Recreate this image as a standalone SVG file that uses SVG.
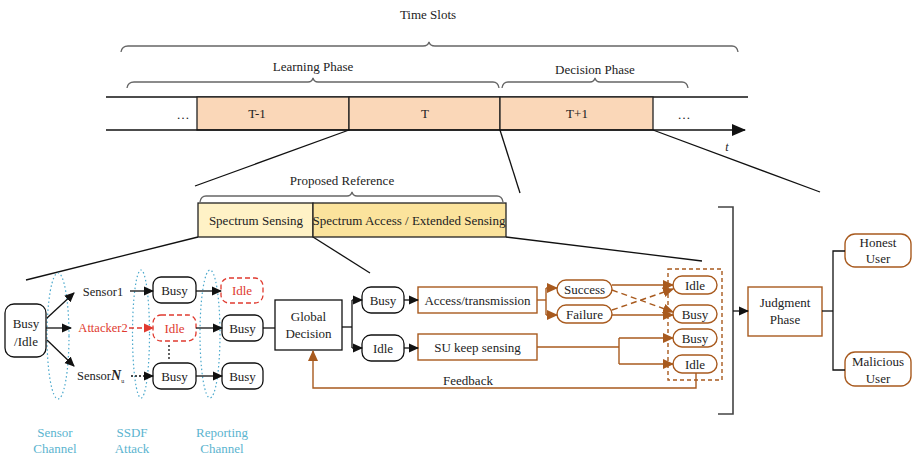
<svg xmlns="http://www.w3.org/2000/svg" width="912" height="457" viewBox="0 0 912 457" font-family="'Liberation Serif', 'Times New Roman', Times, serif">
<defs>
<marker id="ab" markerUnits="userSpaceOnUse" markerWidth="10" markerHeight="10" refX="9" refY="5" orient="auto"><path d="M0,0.5 L10,5 L0,9.5 Z" fill="#111"/></marker>
<marker id="ar" markerUnits="userSpaceOnUse" markerWidth="10" markerHeight="10" refX="9" refY="5" orient="auto"><path d="M0,0.5 L10,5 L0,9.5 Z" fill="#E03A2F"/></marker>
<marker id="aw" markerUnits="userSpaceOnUse" markerWidth="11" markerHeight="11" refX="10" refY="5.5" orient="auto"><path d="M0,0.5 L11,5.5 L0,10.5 Z" fill="#A85A1E"/></marker>
<marker id="abig" markerUnits="userSpaceOnUse" markerWidth="14" markerHeight="12" refX="13" refY="6" orient="auto"><path d="M0,0 L14,6 L0,12 Z" fill="#111"/></marker>
</defs>
<style>
text{font-family:'Liberation Serif','Times New Roman',Times,serif;font-size:13px;fill:#222;text-anchor:middle}
.sm{font-size:12.5px}
.blue{fill:#5BB4CF;font-size:13px}
.red{fill:#E03A2F}
.bl{fill:none;stroke:#111;stroke-width:1.3}
.br{fill:none;stroke:#A85A1E;stroke-width:1.4}
.box{fill:#fff;stroke:#111;stroke-width:1.3}
.bbox{fill:#fff;stroke:#A85A1E;stroke-width:1.4}
.brace{fill:none;stroke:#666;stroke-width:1.3}
.ell{fill:none;stroke:#4AA8CC;stroke-width:1.2;stroke-dasharray:1.5 2.5}
.cell{fill:#FAD7B8;stroke:#222;stroke-width:1.3}
</style>
<rect width="912" height="457" fill="#fff"/>

<g id="timeline">
<text x="428" y="19">Time Slots</text>
<path class="brace" d="M121,52 Q122,46 128,46 L423,46 Q428,46 429,42 Q430,46 435,46 L732,46 Q737,46 738,52"/>
<text x="313" y="71">Learning Phase</text>
<path class="brace" d="M127,88 Q128,82 134,82 L308,82 Q312,82 313,78 Q314,82 318,82 L493,82 Q498,82 499,88"/>
<text x="595" y="74">Decision Phase</text>
<path class="brace" d="M502,88 Q503,82 508,82 L590,82 Q594,82 595,78 Q596,82 600,82 L682,82 Q687,82 688,88"/>
<line class="bl" x1="106" y1="97" x2="748" y2="97"/>
<rect class="cell" x="197" y="97" width="152" height="33"/>
<rect class="cell" x="349" y="97" width="151" height="33"/>
<rect class="cell" x="500" y="97" width="153" height="33"/>
<line class="bl" x1="106" y1="130" x2="745" y2="130" marker-end="url(#abig)"/>
<text x="183" y="119">…</text>
<text x="257" y="118">T-1</text>
<text x="425" y="118">T</text>
<text x="577" y="118">T+1</text>
<text x="684" y="119">…</text>
<text x="727" y="151" style="font-style:italic;font-size:12px">t</text>
</g>

<g id="zoom-lines">
<line class="bl" x1="349" y1="130" x2="195" y2="186"/>
<line class="bl" x1="500" y1="130" x2="520" y2="193"/>
<line class="bl" x1="653" y1="130" x2="820" y2="192"/>
<line class="bl" x1="198" y1="237" x2="26" y2="280"/>
<line class="bl" x1="313" y1="237" x2="370" y2="273"/>
<line class="bl" x1="506" y1="237" x2="702" y2="261"/>
</g>

<g id="proposed">
<text x="342" y="185">Proposed Reference</text>
<path class="brace" d="M200,202 Q201,196 206,196 L347,196 Q351,196 352,192 Q353,196 357,196 L497,196 Q502,196 503,202"/>
<rect x="198" y="203" width="115" height="34" fill="#FFF2C6" stroke="#222" stroke-width="1.3"/>
<rect x="313" y="203" width="193" height="34" fill="#FBE39C" stroke="#222" stroke-width="1.3"/>
<text x="256" y="225">Spectrum Sensing</text>
<text x="409" y="225">Spectrum Access / Extended Sensing</text>
</g>

<g id="channels">
<ellipse class="ell" cx="58" cy="336" rx="11" ry="63"/>
<ellipse class="ell" cx="141" cy="334" rx="8.5" ry="64"/>
<ellipse class="ell" cx="210" cy="334" rx="10" ry="64"/>
<text class="blue" x="55" y="437">Sensor</text>
<text class="blue" x="55" y="453">Channel</text>
<text class="blue" x="132" y="437">SSDF</text>
<text class="blue" x="132" y="453">Attack</text>
<text class="blue" x="222" y="437">Reporting</text>
<text class="blue" x="222" y="453">Channel</text>
</g>

<g id="busy-idle"><rect class="box" x="5" y="304" width="41" height="53" rx="9"/><text x="26" y="328">Busy</text><text x="26" y="346">/Idle</text></g>
<g id="sensor1"><text x="103" y="296" class="sm">Sensor1</text></g>
<g id="attacker2"><text x="103" y="332" class="sm red">Attacker2</text></g>
<g id="sensorN"><text x="77" y="380" class="sm" style="text-anchor:start">Sensor<tspan style="font-weight:bold;font-style:italic;font-size:14px">N</tspan><tspan dy="3" style="font-size:6px">u</tspan></text></g>

<g id="s-busy1"><rect class="box" x="153" y="277" width="43" height="26" rx="8"/><text x="174.5" y="295">Busy</text></g>
<g id="s-idle2"><rect x="153" y="315" width="43" height="26" rx="8" fill="#fff" stroke="#E03A2F" stroke-width="1.3" stroke-dasharray="5 3"/><text x="174.5" y="333" class="red">Idle</text></g>
<g id="s-busyN"><rect class="box" x="153" y="363" width="43" height="26" rx="8"/><text x="174.5" y="381">Busy</text></g>
<g id="r-idle1"><rect x="221" y="278" width="42" height="25" rx="8" fill="#fff" stroke="#E03A2F" stroke-width="1.3" stroke-dasharray="5 3"/><text x="242" y="295" class="red">Idle</text></g>
<g id="r-busy2"><rect class="box" x="222" y="315" width="41" height="26" rx="8"/><text x="242.5" y="333">Busy</text></g>
<g id="r-busyN"><rect class="box" x="222" y="363" width="41" height="26" rx="8"/><text x="242.5" y="381">Busy</text></g>

<g id="global"><rect class="box" x="275" y="300" width="67" height="50"/><text x="308.5" y="321">Global</text><text x="308.5" y="338">Decision</text></g>
<g id="g-busy"><rect class="box" x="362" y="287" width="42" height="26" rx="9"/><text x="383" y="305">Busy</text></g>
<g id="g-idle"><rect class="box" x="362" y="335" width="42" height="26" rx="9"/><text x="383" y="353">Idle</text></g>
<g id="access"><rect class="bbox" x="418" y="287" width="119" height="26"/><text x="477.5" y="305">Access/transmission</text></g>
<g id="keep"><rect class="bbox" x="418" y="334" width="119" height="26"/><text x="477.5" y="352">SU keep sensing</text></g>
<g id="success"><rect class="bbox" x="557" y="280" width="55" height="18" rx="9"/><text x="584.5" y="293.5">Success</text></g>
<g id="failure"><rect class="bbox" x="557" y="305" width="55" height="18" rx="9"/><text x="584.5" y="318.5">Failure</text></g>
<g id="out-group"><rect x="668" y="269" width="54" height="111" fill="none" stroke="#A85A1E" stroke-width="1.4" stroke-dasharray="4 3"/></g>
<g id="o-idle1"><rect class="bbox" x="673" y="276" width="44" height="18" rx="9"/><text x="695" y="290">Idle</text></g>
<g id="o-busy1"><rect class="bbox" x="673" y="305" width="44" height="18" rx="9"/><text x="695" y="319">Busy</text></g>
<g id="o-busy2"><rect class="bbox" x="673" y="329" width="44" height="18" rx="9"/><text x="695" y="343">Busy</text></g>
<g id="o-idle2"><rect class="bbox" x="673" y="355" width="44" height="18" rx="9"/><text x="695" y="369">Idle</text></g>

<g id="judgment"><rect class="bbox" x="748" y="287" width="74" height="49"/><text x="785" y="307">Judgment</text><text x="785" y="324">Phase</text></g>
<g id="honest"><rect class="bbox" x="845" y="234" width="66" height="33" rx="10"/><text x="878" y="247">Honest</text><text x="878" y="263">User</text></g>
<g id="malicious"><rect class="bbox" x="845" y="352" width="66" height="34" rx="10"/><text x="878" y="366">Malicious</text><text x="878" y="383">User</text></g>
<g id="feedback-label"><text x="468" y="385">Feedback</text></g>

<g id="connectors">
<line class="bl" x1="47" y1="318" x2="74" y2="293" marker-end="url(#ab)"/>
<line class="bl" x1="46" y1="328" x2="71" y2="328" marker-end="url(#ab)"/>
<line class="bl" x1="47" y1="340" x2="74" y2="366" marker-end="url(#ab)"/>
<line class="bl" x1="130" y1="291" x2="153" y2="291" marker-end="url(#ab)"/>
<line x1="129" y1="328" x2="153" y2="328" stroke="#E03A2F" stroke-width="1.3" stroke-dasharray="5 3" marker-end="url(#ar)"/>
<line x1="131" y1="376" x2="153" y2="376" stroke="#111" stroke-width="1.3" stroke-dasharray="2 2" marker-end="url(#ab)"/>
<line x1="169" y1="345" x2="169" y2="360" stroke="#111" stroke-width="1.3" stroke-dasharray="2 2"/>
<line class="bl" x1="196" y1="291" x2="221" y2="291" marker-end="url(#ab)"/>
<line class="bl" x1="196" y1="328" x2="222" y2="328" marker-end="url(#ab)"/>
<line class="bl" x1="196" y1="376" x2="222" y2="376" marker-end="url(#ab)"/>
<line class="bl" x1="263" y1="328" x2="275" y2="328"/>
<polyline class="bl" points="342,327 352,327"/>
<line class="bl" x1="352" y1="300" x2="352" y2="348"/>
<line class="bl" x1="352" y1="300" x2="362" y2="300" marker-end="url(#ab)"/>
<line class="bl" x1="352" y1="348" x2="362" y2="348" marker-end="url(#ab)"/>
<line class="bl" x1="404" y1="300" x2="418" y2="300" marker-end="url(#ab)"/>
<line class="bl" x1="404" y1="348" x2="418" y2="348" marker-end="url(#ab)"/>
<polyline class="br" points="537,300 546,300"/>
<line class="br" x1="546" y1="288" x2="546" y2="315"/>
<line class="br" x1="546" y1="288" x2="557" y2="288" marker-end="url(#aw)"/>
<line class="br" x1="546" y1="315" x2="557" y2="315" marker-end="url(#aw)"/>
<line class="br" x1="612" y1="285" x2="673" y2="285" marker-end="url(#aw)"/>
<line class="br" x1="612" y1="315" x2="673" y2="315" marker-end="url(#aw)"/>
<line class="br" x1="612" y1="290" x2="673" y2="312" stroke-dasharray="6 4" marker-end="url(#aw)"/>
<line class="br" x1="612" y1="310" x2="673" y2="289" stroke-dasharray="6 4" marker-end="url(#aw)"/>
<polyline class="br" points="537,347 619,347"/>
<line class="br" x1="619" y1="338" x2="619" y2="364"/>
<line class="br" x1="619" y1="338" x2="673" y2="338" marker-end="url(#aw)"/>
<line class="br" x1="619" y1="364" x2="673" y2="364" marker-end="url(#aw)"/>
<polyline class="br" points="696,373 696,388 313,388 313,351" marker-end="url(#aw)"/>
<polyline class="bl" points="718,207 733,207 733,414 718,414" style="stroke:#444;stroke-width:1.6"/>
<line class="bl" x1="733" y1="311" x2="748" y2="311" marker-end="url(#ab)"/>
<polyline class="bl" points="822,311 833,311"/>
<polyline class="bl" points="845,251 833,251 833,370 845,370"/>
</g>
</svg>
